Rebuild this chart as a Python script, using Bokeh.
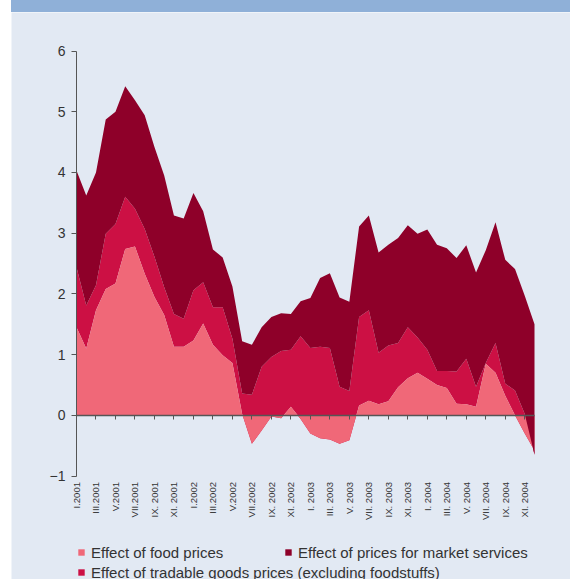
import numpy as np
from bokeh.plotting import figure
from bokeh.models import (Range1d, FixedTicker, LinearAxis, Legend, LegendItem,
                          Div, ColumnDataSource)
from bokeh.layouts import column
from bokeh.embed import file_html
from bokeh.resources import INLINE

# ---- data -------------------------------------------------------------
romans = ["I", "II", "III", "IV", "V", "VI", "VII", "VIII", "IX", "X", "XI", "XII"]
years = [2001, 2002, 2003, 2004]
month_labels = [f"{r}.{y}" if (y < 2003 and r not in ("IX", "XI")) else f"{r}. {y}"
                for y in years for r in romans]

food = [1.45, 1.10, 1.73, 2.08, 2.17, 2.74, 2.78, 2.33, 1.95, 1.65, 1.13, 1.13,
        1.23, 1.51, 1.16, 0.99, 0.86, 0.02, -0.47, -0.25, -0.02, -0.05, 0.14, -0.06,
        -0.30, -0.38, -0.40, -0.47, -0.41, 0.16, 0.24, 0.18, 0.23, 0.46, 0.61, 0.70,
        0.60, 0.50, 0.45, 0.19, 0.18, 0.14, 0.85, 0.70, 0.32, 0.00, -0.30, -0.58]
tradable = [0.99, 0.71, 0.41, 0.91, 0.98, 0.86, 0.62, 0.74, 0.66, 0.46, 0.54, 0.46,
            0.83, 0.68, 0.62, 0.79, 0.40, 0.34, 0.81, 1.05, 0.98, 1.11, 0.94, 1.36,
            1.41, 1.51, 1.51, 0.94, 0.81, 1.46, 1.49, 0.85, 0.92, 0.73, 0.84, 0.58,
            0.48, 0.23, 0.28, 0.53, 0.75, 0.33, 0.01, 0.49, 0.20, 0.41, 0.32, -0.07]
services = [1.59, 1.81, 1.86, 1.88, 1.85, 1.82, 1.79, 1.87, 1.81, 1.84, 1.62, 1.65,
            1.60, 1.17, 0.95, 0.82, 0.86, 0.86, 0.82, 0.65, 0.66, 0.62, 0.59, 0.58,
            0.82, 1.13, 1.23, 1.47, 1.47, 1.49, 1.56, 1.65, 1.66, 1.73, 1.68, 1.71,
            1.98, 2.08, 2.02, 1.87, 1.87, 1.88, 1.86, 1.99, 2.04, 2.00, 1.95, 2.15]
y_ticks = [-1, 0, 1, 2, 3, 4, 5, 6]

series_names = ["Effect of food prices",
                "Effect of tradable goods prices (excluding foodstuffs)",
                "Effect of prices for market services"]

# ---- styling / layout -------------------------------------------------
BG = "#E2E9F3"
BAND = "#8FB0D8"
PINK = "#F06878"
RED = "#CC1044"
DARK = "#8E0029"
TXT = "#333333"
AX = "#555555"
FONT = "Liberation Sans"

W, H = 559, 567                 # figure size (below a 12px band)
PLOT_L, PLOT_R = 65, 523        # pixel span of first..last month
PLOT_TOP, ZERO_Y = 38.5, 402.8  # pixel rows of the top tick and of zero

x = np.arange(len(food))
n = len(x)
ppx = (PLOT_R - PLOT_L) / (n - 1)
ppy = (ZERO_Y - PLOT_TOP) / y_ticks[-1]
x_range = Range1d(-PLOT_L / ppx, (n - 1) + (W - PLOT_R) / ppx)
y_range = Range1d(-(H - ZERO_Y) / ppy, ZERO_Y / ppy)

c1 = np.array(food)
c2 = c1 + np.array(tradable)
c3 = c2 + np.array(services)
src = ColumnDataSource(dict(x=x, c1=c1, c2=c2, c3=c3, zero=np.zeros(n)))

p = figure(width=W, height=H, x_range=x_range, y_range=y_range,
           output_backend="svg", toolbar_location=None,
           x_axis_location=None, y_axis_location=None,
           min_border=0, background_fill_color=BG, border_fill_color=BG,
           outline_line_color=None)
p.xgrid.visible = False
p.ygrid.visible = False

r_trad = p.varea(x="x", y1="c1", y2="c2", source=src, fill_color=RED)
r_food = p.varea(x="x", y1="zero", y2="c1", source=src, fill_color=PINK)
r_serv = p.varea(x="x", y1="c2", y2="c3", source=src, fill_color=DARK)

tick_idx = list(range(0, n, 2))

# month labels just below the bottom of the value axis
xa = LinearAxis(fixed_location=y_ticks[0], ticker=FixedTicker(ticks=tick_idx),
                major_label_overrides={i: month_labels[i] for i in tick_idx},
                major_label_orientation=np.pi / 2,
                axis_line_color=None, major_tick_line_color=None,
                minor_tick_line_color=None, major_tick_out=0, major_tick_in=0,
                major_label_standoff=6, major_label_text_font=FONT,
                major_label_text_font_size="9.5px", major_label_text_color=TXT)
p.add_layout(xa, "below")

# zero line with tick marks
ax0 = LinearAxis(fixed_location=0, ticker=FixedTicker(ticks=tick_idx),
                 bounds=(0, n - 1),
                 axis_line_color=AX, axis_line_width=1.5,
                 major_tick_line_color=AX, major_tick_out=4, major_tick_in=0,
                 minor_tick_line_color=None,
                 major_label_text_alpha=0, major_label_text_font_size="1px")
p.add_layout(ax0, "below")

ya = LinearAxis(fixed_location=0, ticker=FixedTicker(ticks=y_ticks),
                bounds=(y_ticks[0], y_ticks[-1]),
                axis_line_color=AX, major_tick_line_color=AX,
                major_tick_out=5, major_tick_in=0, minor_tick_line_color=None,
                major_label_standoff=6, major_label_text_font=FONT,
                major_label_text_font_size="14px", major_label_text_color=TXT)
p.add_layout(ya, "left")

leg_style = dict(glyph_width=8, glyph_height=8, label_height=20, label_standoff=6,
                 spacing=0, padding=0, margin=0, border_line_color=None,
                 background_fill_alpha=0, label_text_font=FONT,
                 label_text_font_size="15px", label_text_color=TXT)
leg1 = Legend(items=[LegendItem(label=series_names[0], renderers=[r_food]),
                     LegendItem(label=series_names[1], renderers=[r_trad])],
              location=(66, -3), **leg_style)
leg2 = Legend(items=[LegendItem(label=series_names[2], renderers=[r_serv])],
              location=(273, 17), **leg_style)
p.add_layout(leg1, "center")
p.add_layout(leg2, "center")

band = Div(text="", width=W, height=12, margin=0,
           styles={"background-color": BAND})
page = column(band, p, spacing=0, styles={"margin-left": "11px"})

open("out.html", "w").write(file_html(page, INLINE))
